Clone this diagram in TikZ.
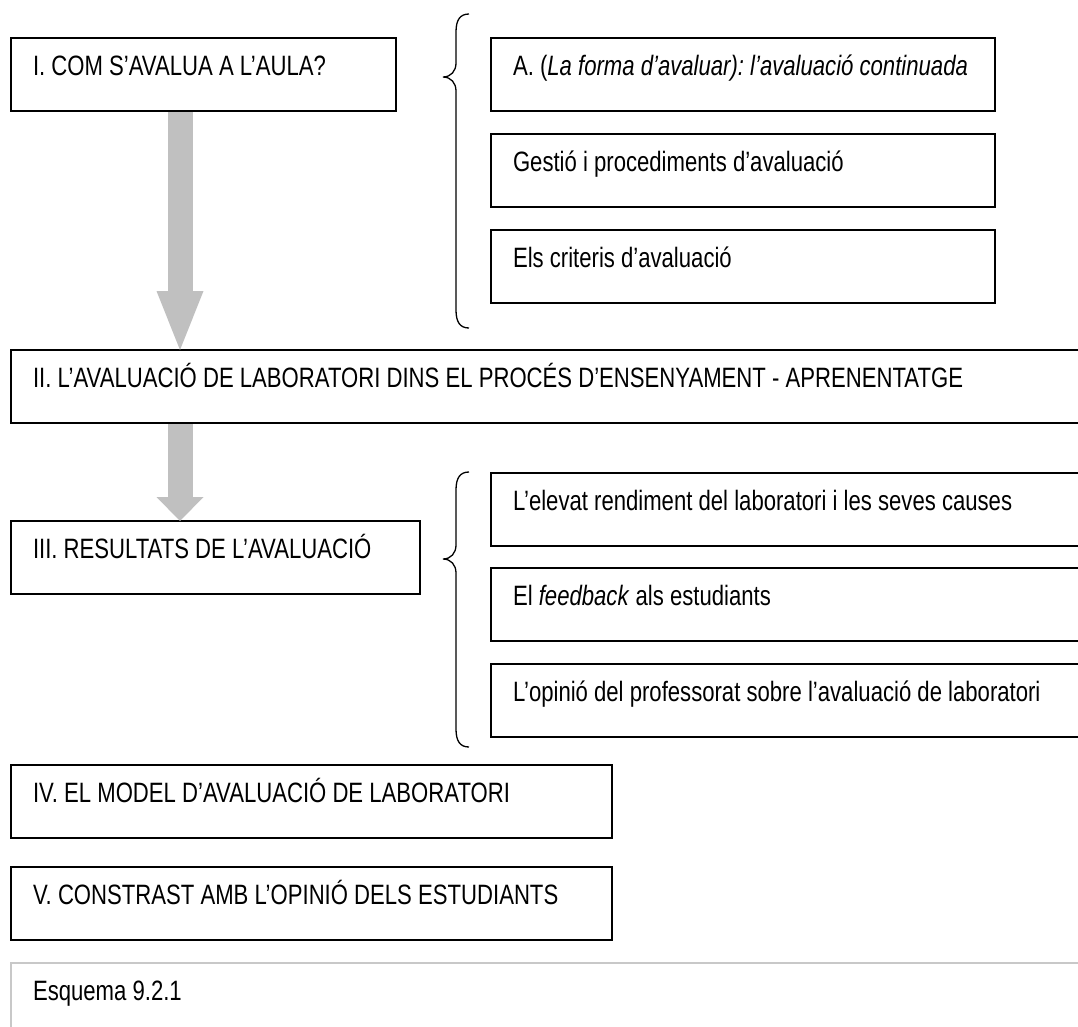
\documentclass[tikz,border=0pt]{standalone}
\usepackage{fontspec}
\setmainfont[FakeStretch=0.79]{Liberation Sans}
\usetikzlibrary{arrows.meta}
\usetikzlibrary{positioning}
\definecolor{arrow-grey}{RGB}{192, 192, 192}
\definecolor{caption-grey}{RGB}{200, 200, 200}
\tikzset{
    box/.style={draw, line width=2pt, anchor=north west, outer sep=0pt,
        inner xsep=22pt, inner ysep=0pt, text height=37pt, text depth=36pt,
        align=flush left, font=\fontsize{28}{33}\selectfont\frenchspacing},
    bracket/.style={line width=1.3pt},
    bigarrow/.style={draw=arrow-grey, line width=25pt}
}

\begin{document}
\begin{tikzpicture}[x=1pt, y=-1pt]
                \useasboundingbox (0,0) rectangle (1078,1026);
                \node[box, text width=341pt] (secI) at (11,38) {I. COM S’AVALUA A L’AULA?};
                \node[box, text width=460pt] (secA) at (491,38) {\mbox{A. (\textit{La forma d’avaluar): l’avaluació continuada}}};
                \node[box, text width=460pt] (secB) at (491,134) {Gestió i procediments d’avaluació};
                \node[box, text width=460pt] (secC) at (491,230) {Els criteris d’avaluació};
                \node[box, text width=1040pt] (secII) at (11,350) {II. L’AVALUACIÓ DE LABORATORI DINS EL PROCÉS D’ENSENYAMENT - APRENENTATGE};
                \node[box, text width=365pt] (secIII) at (11,521) {III. RESULTATS DE L’AVALUACIÓ};
                \node[box, text width=560pt] (res1) at (491,473) {L’elevat rendiment del laboratori i les seves causes};
                \node[box, text width=560pt] (res2) at (491,568) {El \textit{feedback} als estudiants};
                \node[box, text width=560pt] (res3) at (491,664) {L’opinió del professorat sobre l’avaluació de laboratori};
                \node[box, text width=557pt] (secIV) at (11,765) {IV. EL MODEL D’AVALUACIÓ DE LABORATORI};
                \node[box, text width=557pt] (secV) at (11,867) {V. CONSTRAST AMB L’OPINIÓ DELS ESTUDIANTS};
                \node[box, draw=caption-grey, text depth=43pt, text width=1040pt] (caption) at (11,963) {Esquema 9.2.1};
                % grey arrows
                \draw[bigarrow, -{Triangle[width=47pt, length=59pt, line width=0pt]}] ([yshift=-1pt]180,0 |- secI.south) -- (180,0 |- secII.north);
                \draw[bigarrow, -{Triangle[width=47pt, length=24pt, line width=0pt]}] ([yshift=-1pt]180,0 |- secII.south) -- (180,0 |- secIII.north);
                % braces
                \draw[bracket] (469,14) .. controls (460,14) and (456,20) .. (456,32) -- (456,63) .. controls (456,71) and (451,77) .. (443,77)
                    .. controls (451,77) and (456,83) .. (456,91) -- (456,310) .. controls (456,322) and (460,328) .. (469,328);
                \draw[bracket] (469,472) .. controls (460,472) and (456,478) .. (456,490) -- (456,545) .. controls (456,553) and (451,559) .. (443,559)
                    .. controls (451,559) and (456,565) .. (456,573) -- (456,729) .. controls (456,741) and (460,747) .. (469,747);
            \end{tikzpicture}
\end{document}
